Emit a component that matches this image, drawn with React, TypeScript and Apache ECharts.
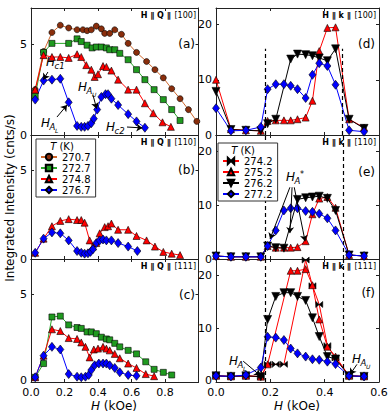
import React, { useEffect, useRef } from "react";
import * as echarts from "echarts";

// ---------- data ----------
// (a) H || Q || [100]
const hA707 = [0.025,0.075,0.125,0.175,0.225,0.275,0.31,0.335,0.36,0.39,0.42,0.44,0.47,0.5,0.54,0.58,0.63,0.69,0.74,0.79,0.84,0.89,0.94,0.99];
const iA707 = [2.5,4.6,5.65,6.05,5.9,5.8,5.8,5.75,5.8,6.0,5.85,5.6,5.6,5.8,5.55,5.05,4.55,4.05,3.6,3.15,2.55,2.0,1.4,0.75];
const hA727 = [0.025,0.075,0.125,0.225,0.275,0.3,0.335,0.365,0.39,0.42,0.45,0.47,0.5,0.53,0.58,0.63,0.68,0.735,0.79,0.84,0.89];
const iA727 = [2.15,4.55,5.05,5.05,5.3,5.15,4.95,4.8,4.85,4.85,4.8,4.7,4.7,4.5,4.15,3.6,3.05,2.5,1.95,1.4,0.8];
const hA748 = [0.025,0.075,0.125,0.175,0.225,0.275,0.3,0.33,0.36,0.38,0.4,0.43,0.45,0.48,0.52,0.58,0.63,0.68,0.73,0.785,0.835];
const iA748 = [2.5,4.4,4.3,4.3,4.25,4.45,4.3,3.85,3.6,3.2,3.35,3.8,3.75,3.55,3.05,2.5,2.5,1.75,1.2,0.7,0.45];
const hA767 = [0.025,0.075,0.125,0.175,0.225,0.275,0.3,0.32,0.34,0.36,0.375,0.395,0.42,0.445,0.46,0.48,0.52,0.58,0.63,0.68];
const iA767 = [1.95,3.0,3.05,3.1,1.8,0.5,0.45,0.45,0.5,0.65,0.9,1.4,2.1,2.25,2.25,2.0,1.65,1.15,0.75,0.4];
// (b) H || Q || [110]
const hB748 = [0.025,0.075,0.125,0.175,0.225,0.275,0.3,0.32,0.35,0.37,0.39,0.41,0.44,0.46,0.48,0.52,0.58,0.63,0.69,0.74,0.79,0.84,0.89];
const iB748 = [0.35,1.15,1.85,2.15,2.25,2.2,2.2,2.05,1.05,0.7,0.9,1.45,1.8,1.85,2.0,1.65,1.65,1.3,1.05,0.7,0.4,0.3,0.22];
const hB767 = [0.025,0.075,0.125,0.175,0.225,0.275,0.3,0.32,0.34,0.355,0.37,0.39,0.41,0.43,0.45,0.48,0.52,0.58,0.635];
const iB767 = [0.35,1.15,1.5,1.45,1.05,0.45,0.35,0.3,0.32,0.4,0.55,0.9,1.05,1.1,1.05,1.05,0.9,0.7,0.45];
// (c) H || Q || [111]
const hC727 = [0.025,0.075,0.125,0.175,0.225,0.275,0.3,0.335,0.36,0.39,0.42,0.45,0.47,0.5,0.53,0.58,0.63,0.685,0.735,0.79,0.84];
const iC727 = [0.27,1.05,3.7,3.75,3.25,3.1,3.05,2.85,2.85,2.75,2.55,2.45,2.4,2.2,2.0,1.8,1.6,1.15,0.72,0.55,0.4];
const hC748 = [0.025,0.075,0.125,0.175,0.225,0.275,0.3,0.325,0.35,0.375,0.4,0.43,0.45,0.47,0.5,0.53,0.58,0.63,0.685,0.735];
const iC748 = [0.27,1.5,3.0,2.9,2.5,2.45,2.25,2.0,1.4,1.85,1.9,2.0,1.9,1.8,1.6,1.35,1.05,0.8,0.45,0.33];
const hC767 = [0.025,0.075,0.125,0.175,0.225,0.275,0.3,0.325,0.345,0.36,0.38,0.405,0.43,0.45,0.47,0.5,0.53,0.58,0.63];
const iC767 = [0.27,1.5,2.0,1.85,0.45,0.3,0.27,0.3,0.4,0.68,0.95,1.05,1.05,1.05,0.95,0.8,0.55,0.4,0.35];
// right column: H || k
const hK = [0,0.055,0.11,0.165,0.19,0.22,0.25,0.275,0.3,0.33,0.355,0.38,0.41,0.44,0.49,0.545];
// (d) [100]
const iD752 = [10.0,1.05,0.85,0.75,2.55,2.65,2.65,2.65,2.85,3.15,6.2,15.2,19.4,19.5,2.85,1.35];
const hD762 = [0,0.055,0.11,0.165,0.19,0.22,0.275,0.3,0.33,0.355,0.38,0.41,0.44,0.49,0.545];
const iD762 = [7.9,1.0,0.85,0.75,2.05,2.85,13.75,14.65,14.55,14.35,13.95,13.45,15.6,2.85,1.2];
const iD772 = [4.85,0.75,0.85,1.45,8.3,9.2,9.2,8.9,8.3,6.7,10.9,13.0,12.5,9.1,0.85,0.6];
// (e) [110]
const iE752 = [0.55,0.4,0.4,0.4,2.4,2.1,2.1,2.1,2.2,3.3,8.3,11.2,11.5,9.5,0.75,0.55];
const hE762 = [0,0.055,0.11,0.165,0.19,0.22,0.25,0.3,0.33,0.355,0.38,0.41,0.44,0.49,0.545];
const iE762 = [0.55,0.4,0.4,0.4,2.4,2.1,2.0,11.05,11.35,11.5,11.65,11.25,9.0,0.75,0.55];
const iE772 = [0.55,0.4,0.4,0.4,2.4,5.3,9.0,9.4,9.4,8.9,8.75,8.4,7.55,5.3,0.75,0.55];
// (f) [111]
const hF742 = [0,0.055,0.11,0.165,0.19,0.22,0.25,0.33,0.355,0.38,0.41,0.44,0.49,0.545];
const iF742 = [1.15,1.05,1.15,1.0,3.3,3.3,3.3,22.8,18.0,14.5,6.8,4.5,1.15,1.05];
const hF752 = [0,0.055,0.11,0.165,0.19,0.275,0.3,0.33,0.355,0.38,0.41,0.44,0.49,0.545];
const iF752 = [1.15,1.05,1.15,1.0,3.3,20.8,20.8,21.1,18.1,11.7,6.6,4.75,1.15,1.05];
const iF762 = [1.15,1.05,1.15,1.0,11.7,16.0,16.7,16.7,16.0,15.25,12.0,8.5,4.75,4.3,1.15,1.05];
const iF772 = [1.15,1.05,1.3,2.7,8.45,8.3,7.85,6.25,5.35,4.75,4.25,4.15,3.8,3.35,1.15,1.05];

const tempsLeft = ["270.7", "272.7", "274.8", "276.7"];
const tempsRight = ["274.2", "275.2", "276.2", "277.2"];
const xTicksLeft = { min: 0, max: 1.0, interval: 0.2 };
const xTicksRight = { min: 0, max: 0.6, interval: 0.2 };
const yTicksLeft = { min: 0, max: 7, interval: 5 };
const yTicksRight = { min: 0, max: 23, interval: 10 };
const hLower = 0.18;
const hUpper = 0.465;

const FONT = "DejaVu Sans";
const BOWTIE = "path://M0,0L10,10L10,0L0,10Z";

const STY: Record<string, any> = {
  "270.7": { symbol: "circle", size: 6, fill: "#8a2e0c", line: "#d0672c" },
  "272.7": { symbol: "rect", size: 6, fill: "#1f9a1f", line: "#2aa82a" },
  "274.8": { symbol: "triangle", size: 7, fill: "#ff0000", line: "#ff0000" },
  "276.7": { symbol: "diamond", size: [7, 9], fill: "#0000ff", line: "#0000ff" },
  "274.2": { symbol: BOWTIE, size: [7, 6], fill: "#000000", line: "#ff0000" },
  "275.2": { symbol: "triangle", size: 7, fill: "#ff0000", line: "#ff0000" },
  "276.2": { symbol: "triangle", size: 8, fill: "#000000", line: "#000000", rot: 180 },
  "277.2": { symbol: "diamond", size: [7, 9], fill: "#0000ff", line: "#0000ff" },
};

const GRIDS = [
  { left: 31, top: 8, width: 167.5, height: 127 },
  { left: 31, top: 135, width: 167.5, height: 124 },
  { left: 31, top: 259, width: 167.5, height: 123 },
  { left: 216, top: 8, width: 163, height: 127 },
  { left: 216, top: 135, width: 163, height: 124 },
  { left: 216, top: 259, width: 163, height: 123 },
];

function mk(name: string, hs: number[], vs: number[], gi: number, extra: any = {}) {
  const s = STY[name];
  return {
    type: "line",
    name,
    xAxisIndex: 2 * gi,
    yAxisIndex: 2 * gi,
    data: hs.map((h, k) => [h, vs[k]]),
    symbol: s.symbol,
    symbolSize: s.size,
    symbolRotate: s.rot || 0,
    showSymbol: true,
    lineStyle: { color: s.line, width: 1 },
    itemStyle: { color: s.fill, borderColor: "#000", borderWidth: 0.6 },
    emphasis: { disabled: true },
    ...extra,
  };
}

const arrowML = (pairs: number[][][]) => ({
  silent: true,
  symbol: ["none", "arrow"],
  symbolSize: 6,
  label: { show: false },
  lineStyle: { color: "#000", width: 1, type: "solid" },
  emphasis: { disabled: true },
  data: pairs.map((p) => [{ coord: p[0] }, { coord: p[1] }]),
});

const dashML = (data: any[]) => ({
  silent: true,
  symbol: "none",
  label: { show: false },
  lineStyle: { color: "#000", width: 1.2, type: [4, 3] },
  emphasis: { disabled: true },
  data,
});

function hLabel(x: number, y: number, sub: string, subsub?: string, sup?: string) {
  const els: any[] = [
    { type: "text", x, y, style: { text: "H", fontSize: 12, fontStyle: "italic", fontFamily: FONT, fill: "#000", verticalAlign: "top" } },
    { type: "text", x: x + 8.5, y: y + 5, style: { text: sub, fontSize: 8.5, fontStyle: "italic", fontFamily: FONT, fill: "#000", verticalAlign: "top" } },
  ];
  if (subsub) els.push({ type: "text", x: x + 14, y: y + 10, style: { text: subsub, fontSize: 6, fontStyle: "italic", fontFamily: FONT, fill: "#000", verticalAlign: "top" } });
  if (sup) els.push({ type: "text", x: x + 14, y: y - 1, style: { text: sup, fontSize: 8, fontFamily: FONT, fill: "#000", verticalAlign: "top" } });
  return els;
}

function txt(x: number, y: number, text: string, o: any = {}) {
  return { type: "text", x, y, z: 100, style: { text, fontFamily: FONT, fill: "#000", fontSize: 11, align: "left", verticalAlign: "middle", ...o } };
}

export default function App() {
  const ref = useRef<HTMLDivElement>(null);
  useEffect(() => {
    if (!ref.current) return;
    const chart = echarts.init(ref.current, undefined, { renderer: "svg" });
    const xAxis: any[] = [];
    const yAxis: any[] = [];
    GRIDS.forEach((_, i) => {
      const left = i < 3;
      const bottomRow = i === 2 || i === 5;
      const xt = left ? xTicksLeft : xTicksRight;
      const yt = left ? yTicksLeft : yTicksRight;
      const line = { show: true, onZero: false, lineStyle: { color: "#222", width: 1 } };
      const tick = { show: true, inside: true, length: 3, lineStyle: { color: "#222" } };
      xAxis.push({
        gridIndex: i, type: "value", ...xt, position: "bottom",
        axisLine: line, axisTick: tick, splitLine: { show: false },
        axisLabel: { show: bottomRow, color: "#000", fontSize: 11, fontFamily: FONT, margin: 5,
          showMaxLabel: !left, formatter: (v: number) => v.toFixed(1) },
      });
      xAxis.push({
        gridIndex: i, type: "value", ...xt, position: "top",
        axisLine: line, axisTick: tick, splitLine: { show: false }, axisLabel: { show: false },
      });
      yAxis.push({
        gridIndex: i, type: "value", ...yt, position: "left",
        axisLine: line, axisTick: tick, splitLine: { show: false },
        axisLabel: {
          show: true, color: "#000", fontSize: 11, fontFamily: FONT, margin: 4, showMaxLabel: false,
          formatter: (v: number) => (bottomRow && v === 0 ? "{lo|0}" : String(v)),
          rich: { lo: { fontSize: 11, fontFamily: FONT, color: "#000", padding: [0, 0, 4, 0] } },
        },
      });
      yAxis.push({
        gridIndex: i, type: "value", ...yt, position: "right",
        axisLine: line, axisTick: tick, splitLine: { show: false }, axisLabel: { show: false },
      });
    });

    const series: any[] = [
      mk("270.7", hA707, iA707, 0),
      mk("272.7", hA727, iA727, 0),
      mk("274.8", hA748, iA748, 0),
      mk("276.7", hA767, iA767, 0, {
        markLine: arrowML([
          [[0.101, 3.47], [0.074, 3.05]],
          [[0.155, 0.99], [0.215, 1.65]],
          [[0.37, 2.2], [0.392, 1.45]],
          [[0.573, 0.44], [0.665, 0.39]],
        ]),
      }),
      mk("274.8", hB748, iB748, 1),
      mk("276.7", hB767, iB767, 1),
      mk("272.7", hC727, iC727, 2),
      mk("274.8", hC748, iC748, 2),
      mk("276.7", hC767, iC767, 2),
      mk("275.2", hK, iD752, 3, {
        markLine: dashML([
          [{ coord: [hLower, 0] }, { coord: [hLower, 15.6] }],
          [{ coord: [hUpper, 0] }, { coord: [hUpper, 15.6] }],
        ]),
      }),
      mk("276.2", hD762, iD762, 3),
      mk("277.2", hK, iD772, 3),
      mk("275.2", hK, iE752, 4, { markLine: dashML([{ xAxis: hLower }, { xAxis: hUpper }]) }),
      mk("276.2", hE762, iE762, 4, {
        markLine: arrowML([
          [[0.272, 13.3], [0.199, 3.7]],
          [[0.28, 13.3], [0.272, 4.8]],
          [[0.288, 13.3], [0.328, 3.3]],
        ]),
      }),
      mk("277.2", hK, iE772, 4),
      mk("274.2", hF742, iF742, 5),
      mk("275.2", hF752, iF752, 5, { markLine: dashML([{ xAxis: hLower }, { xAxis: hUpper }]) }),
      mk("276.2", hK, iF762, 5, {
        markLine: arrowML([
          [[0.1, 3.9], [0.163, 1.2]],
          [[0.519, 3.3], [0.493, 1.4]],
        ]),
      }),
      mk("277.2", hK, iF772, 5),
    ];

    const legendBase = {
      orient: "vertical",
      selectedMode: false,
      itemGap: 1,
      itemWidth: 16,
      itemHeight: 8,
      padding: [13, 5, 2, 4],
      borderColor: "#333",
      borderWidth: 1,
      borderRadius: 0,
      backgroundColor: "#fff",
      textStyle: { fontSize: 10, fontFamily: FONT, color: "#000" },
      z: 10,
    };

    const panelTitle = (x: number, y: number, q: string, dir: string) => ({
      type: "text", x, y, z: 100,
      style: {
        text: `{b|H ∥ ${q} ∥} {n|[${dir}]}`,
        align: "right", verticalAlign: "middle", fontFamily: FONT, fill: "#000",
        rich: {
          b: { fontSize: 8, fontWeight: "bold", fontFamily: FONT, fill: "#000" },
          n: { fontSize: 8, fontFamily: FONT, fill: "#000" },
        },
      },
    });

    const graphic: any[] = [
      { type: "text", x: 10, y: 198, rotation: Math.PI / 2, style: { text: "Integrated Intensity (cnts/s)", fontSize: 12, fontFamily: FONT, fill: "#000", align: "center", verticalAlign: "middle" } },
      { type: "text", x: 114, y: 406, style: { text: "{i|H} (kOe)", align: "center", verticalAlign: "middle", fontSize: 12, fontFamily: FONT, fill: "#000", rich: { i: { fontStyle: "italic", fontSize: 12, fontFamily: FONT } } } },
      { type: "text", x: 297, y: 406, style: { text: "{i|H} (kOe)", align: "center", verticalAlign: "middle", fontSize: 12, fontFamily: FONT, fill: "#000", rich: { i: { fontStyle: "italic", fontSize: 12, fontFamily: FONT } } } },
      panelTitle(196, 15, "Q", "100"),
      panelTitle(196, 142, "Q", "110"),
      panelTitle(196, 266, "Q", "111"),
      panelTitle(376, 15, "k", "100"),
      panelTitle(376, 142, "k", "110"),
      panelTitle(376, 266, "k", "111"),
      txt(195, 44, "(a)", { align: "right", fontSize: 12 }),
      txt(195, 170, "(b)", { align: "right", fontSize: 12 }),
      txt(195, 295, "(c)", { align: "right", fontSize: 12 }),
      txt(375, 44, "(d)", { align: "right", fontSize: 12 }),
      txt(375, 172, "(e)", { align: "right", fontSize: 12 }),
      txt(375, 293, "(f)", { align: "right", fontSize: 12 }),
      { type: "text", x: 62, y: 146, z: 100, style: { text: "{i|T} (K)", align: "center", verticalAlign: "middle", fontSize: 10, fontFamily: FONT, fill: "#000", rich: { i: { fontStyle: "italic", fontSize: 10, fontFamily: FONT } } } },
      { type: "text", x: 243, y: 150, z: 100, style: { text: "{i|T} (K)", align: "center", verticalAlign: "middle", fontSize: 10, fontFamily: FONT, fill: "#000", rich: { i: { fontStyle: "italic", fontSize: 10, fontFamily: FONT } } } },
      ...hLabel(46, 56, "c1"),
      ...hLabel(41, 117, "A", "L"),
      ...hLabel(78, 81, "A", "U"),
      ...hLabel(106, 121, "c2"),
      ...hLabel(286, 171, "A", undefined, "*"),
      ...hLabel(229, 355, "A", "L"),
      ...hLabel(352, 353, "A", "U"),
    ];

    chart.setOption({
      animation: false,
      textStyle: { fontFamily: FONT },
      grid: GRIDS.map((g) => ({ ...g, containLabel: false, outerBoundsMode: "none" })),
      xAxis,
      yAxis,
      legend: [
        { ...legendBase, data: tempsLeft, left: 36, top: 139 },
        { ...legendBase, data: tempsRight, left: 218, top: 143 },
      ],
      series,
      graphic,
    });
    return () => chart.dispose();
  }, []);
  return <div ref={ref} style={{ position: "fixed", left: 0, top: 0, width: 390, height: 414, background: "#fff" }} />;
}
